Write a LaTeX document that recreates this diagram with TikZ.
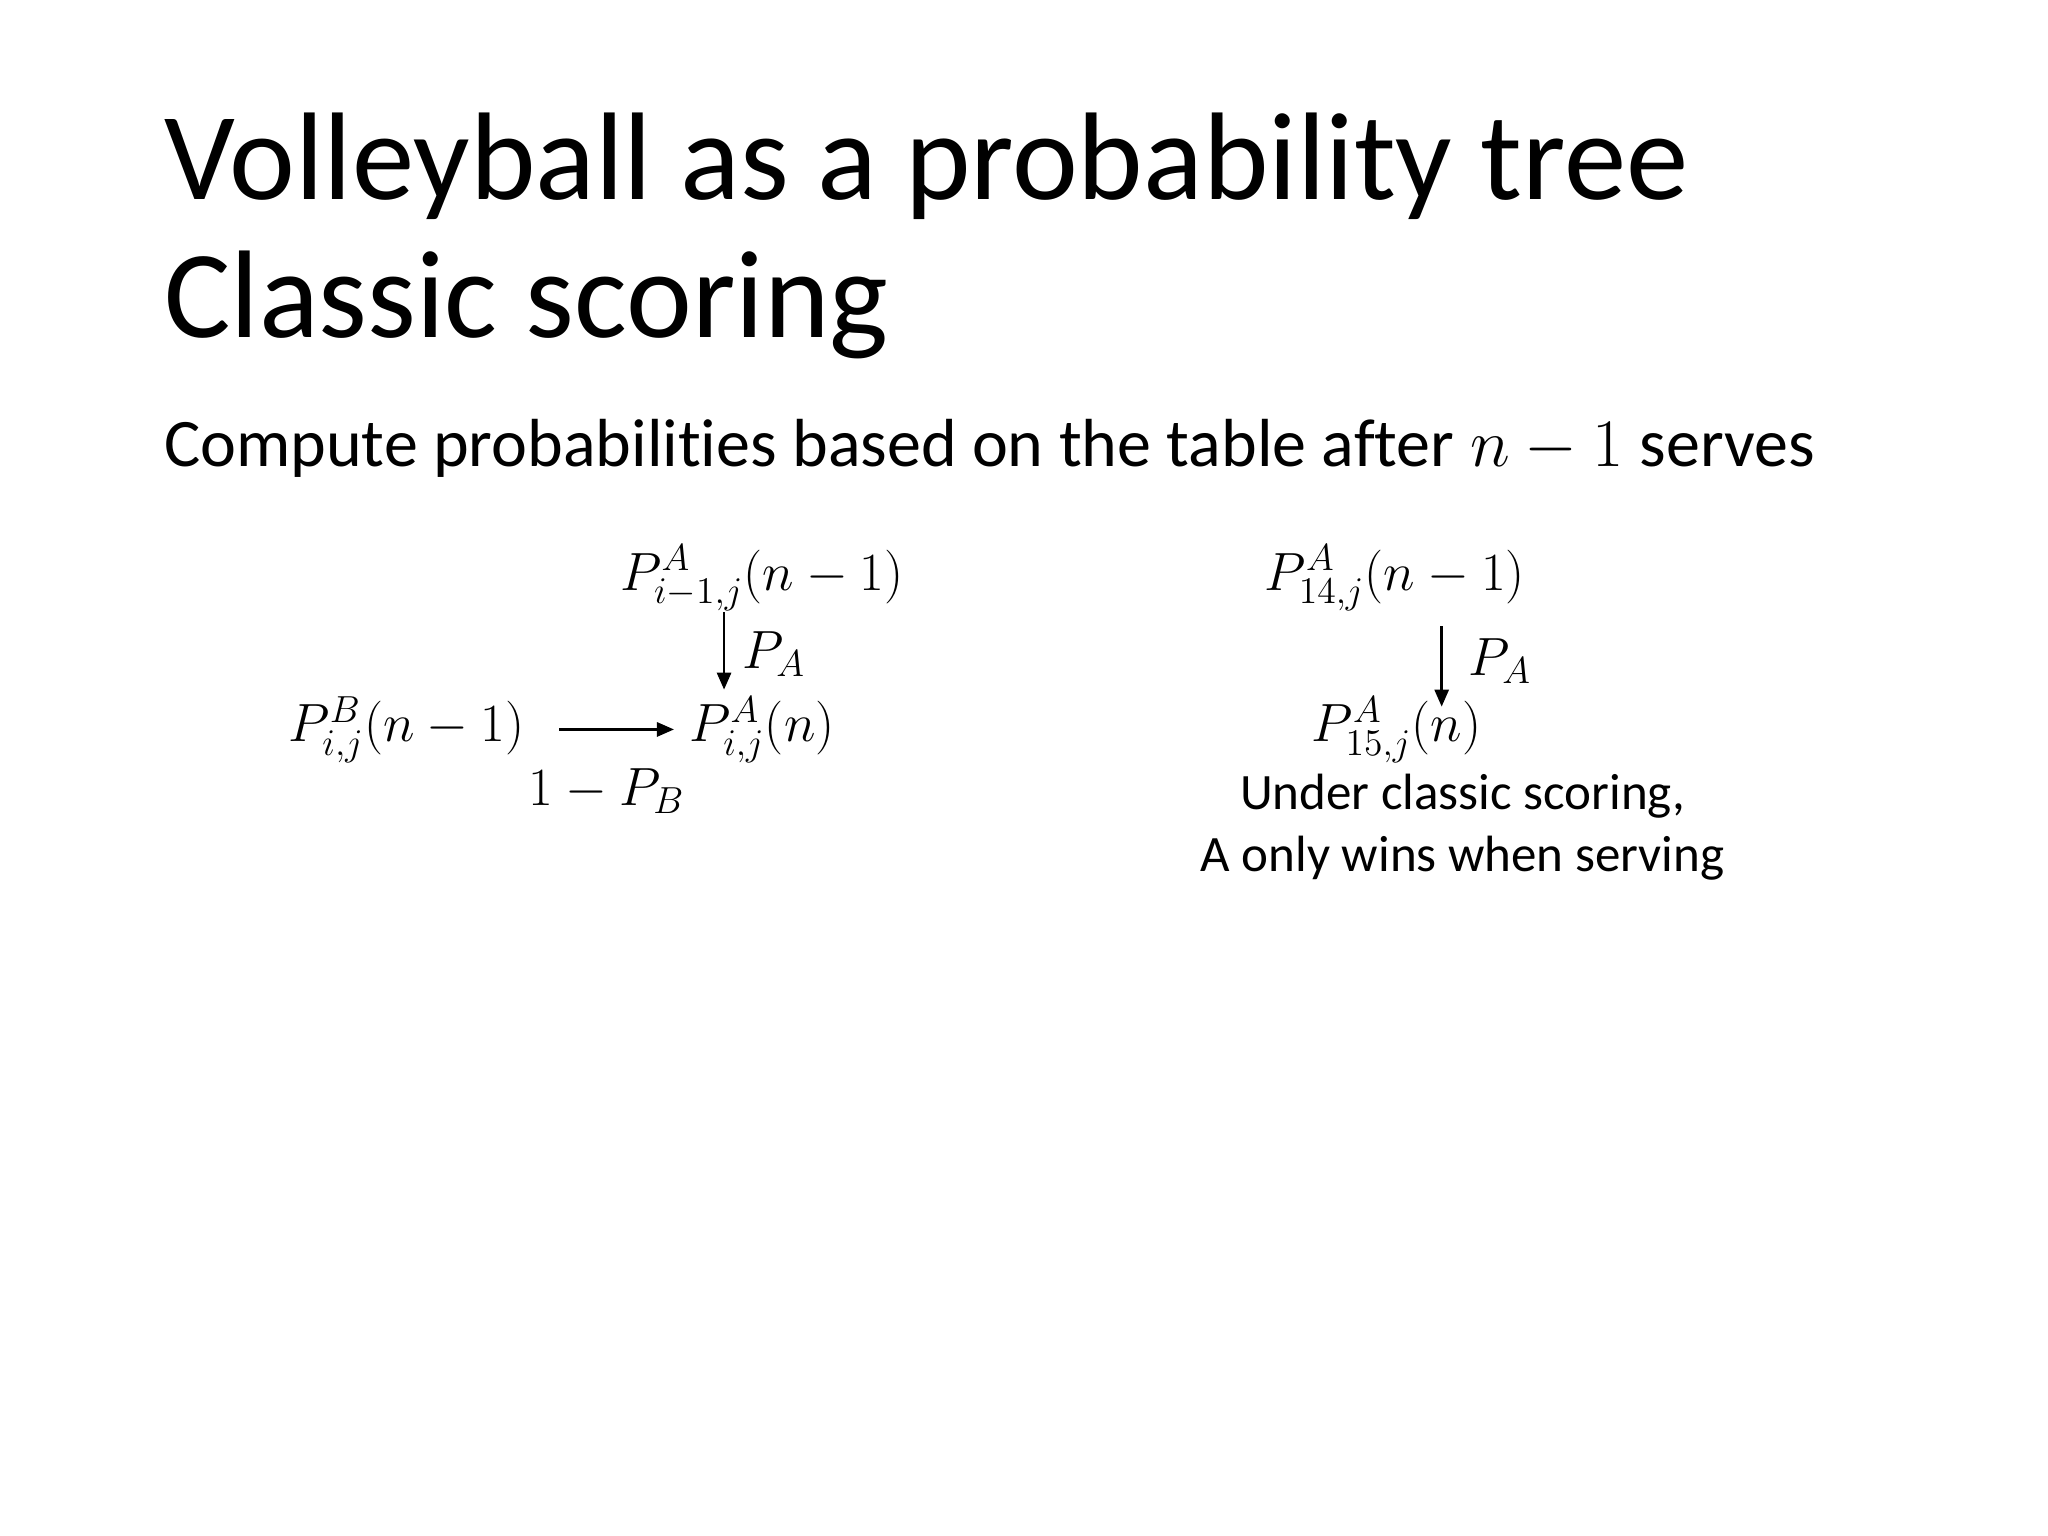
\documentclass[tikz,border=0pt]{standalone}
\usepackage{fix-cm}
\usepackage{amsmath}
\usepackage{fontspec}
\setmainfont{Carlito}[Ligatures=NoCommon]
\usetikzlibrary{arrows.meta}

\begin{document}
\begin{tikzpicture}[>={Triangle[length=6pt,width=5pt]},line width=0.85pt,
    title text/.style={anchor=base west,inner sep=0pt,font=\fontsize{44}{48}\selectfont},
    body text/.style={anchor=base west,inner sep=0pt,font=\fontsize{24}{29}\selectfont},
    prob node/.style={anchor=base,inner sep=2pt,font=\fontsize{19}{23}\selectfont},
    edge label/.style={inner sep=0pt,font=\fontsize{19}{23}\selectfont}]
  \useasboundingbox (0,0) rectangle (25.4,19.05);

  % Title
  \node[title text] (title1) at (2.02,16.57) {Volleyball as a probability tree};
  \node[title text] (title2) at (2.02,14.87) {Classic scoring};
  \node[body text] (sub) at (2.02,13.27) {Compute probabilities based on the table after $n-1$ serves};

  % Nodes
  \node[prob node] (top) at (9.45,11.73) {$P^{A}_{i-1,j}(n-1)$};
  \node[prob node] (left) at (5.04,9.85) {$P^{B}_{i,j}(n-1)$};
  \node[prob node] (cur) at (9.45,9.85) {$P^{A}_{i,j}(n)$};
  \node[prob node] (top2) at (17.30,11.73) {$P^{A}_{14,j}(n-1)$};
  \node[prob node] (cur2) at (17.32,9.85) {$P^{A}_{15,j}(n)$};
  \node[prob node,align=center,font=\fontsize{18}{21.8}\selectfont] (note) at (18.14,8.24)
    {Under classic scoring,\\A only wins when serving};

  % Edges
  \draw[->,shorten <=-2pt] ([xshift=-0.47cm]top.south) -- node[edge label,right=6pt] {$P_A$} ([xshift=-0.47cm]cur.north);
  \draw[->,shorten <=10pt,shorten >=3pt] (left) -- node[edge label,below=13.5pt] {$1-P_B$} (cur);
  \draw[->,shorten <=3pt,shorten >=-6pt] ([xshift=0.58cm]top2.south) -- node[edge label,right=9pt,pos=0.6] {$P_A$} ([xshift=0.56cm]cur2.north);
\end{tikzpicture}
\end{document}
